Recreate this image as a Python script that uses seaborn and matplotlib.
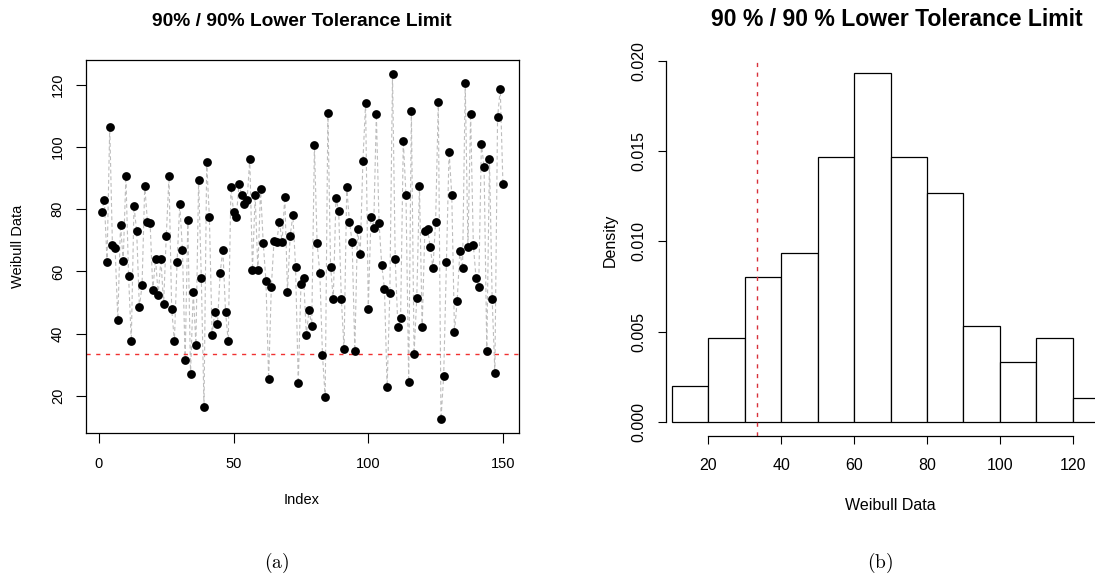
import matplotlib
matplotlib.use("Agg")
import matplotlib.pyplot as plt
import numpy as np
import pandas as pd
import seaborn as sns

# %% DATA (index order 1..150)
weibull_data = [
    79, 83, 63, 106.5, 68.5, 67.5, 44.5, 75, 63.5, 90.5,
    58.5, 37.5, 81, 73, 48.5, 55.5, 87.5, 76, 75.5, 54,
    64, 52.5, 64, 49.5, 71.5, 90.5, 48, 37.5, 63, 81.5,
    67, 31.5, 76.5, 27, 53.5, 36.5, 89.5, 58, 16.5, 95,
    77.5, 39.5, 47, 43, 59.5, 67, 47, 37.5, 87, 79,
    77.5, 88, 84.5, 81.5, 83, 96, 60.5, 84.5, 60.5, 86.5,
    69, 57, 25.5, 55, 69.8, 69.5, 76, 69.5, 84, 53.5,
    71.5, 78, 61.5, 24, 56, 58, 39.5, 47.5, 42.5, 100.5,
    69, 59.5, 33, 19.5, 111, 61.5, 51, 83.5, 79.5, 51,
    35, 87, 76, 69.5, 34.5, 73.5, 65.5, 95.5, 114, 48,
    77.5, 74, 110.5, 75.5, 62, 54.5, 23, 53, 123.5, 64,
    42, 45, 102, 84.5, 24.5, 111.5, 33.5, 51.5, 87.5, 42,
    73, 73.5, 68, 61, 76, 114.5, 12.5, 26.5, 63, 98.5,
    84.5, 40.5, 50.5, 66.5, 61, 120.5, 68, 110.5, 68.5, 58,
    55, 101, 93.5, 34.5, 96, 51, 27.5, 109.5, 118.5, 88,
]
lower_limit = 33.4
hist_breaks = list(range(10, 140, 10))
index_ticks = [0, 50, 100, 150]
value_ticks = [20, 40, 60, 80, 100, 120]
density_ticks = [0.0, 0.005, 0.010, 0.015, 0.020]
hist_ticks = [20, 40, 60, 80, 100, 120]

df = pd.DataFrame({"Index": np.arange(1, len(weibull_data) + 1), "value": weibull_data})

# %% STYLE
sns.set_theme(style="ticks", rc={"axes.edgecolor": "black", "axes.linewidth": 0.9,
                                 "xtick.color": "black", "ytick.color": "black",
                                 "text.color": "black", "axes.labelcolor": "black",
                                 "mathtext.fontset": "cm"})
plt.rcParams["font.family"] = ["Liberation Sans", "DejaVu Sans"]

W, H = 1095, 577
fig = plt.figure(figsize=(W / 100, H / 100), dpi=100)


def box(l, t, r, b):
    return [l / W, 1 - b / H, (r - l) / W, (b - t) / H]


# %% PANEL (a)
ax1 = fig.add_axes(box(85.6, 60, 519, 433))
sns.lineplot(data=df, x="Index", y="value", ax=ax1, color="#BDBDBD",
             linestyle=(0, (3.5, 2.5)), linewidth=0.8)
sns.scatterplot(data=df, x="Index", y="value", ax=ax1, color="black",
                s=40, edgecolor="black", linewidth=0, zorder=3)
ax1.axhline(lower_limit, color="#F03030", linestyle=(0, (3, 4)), linewidth=1.0)
ax1.set_xlim(-4.96, 155.96)
ax1.set_ylim(8.06, 127.94)
ax1.set_xticks(index_ticks)
ax1.set_yticks(value_ticks)
ax1.set_yticklabels([str(v) for v in value_ticks], rotation=90, va="center")
ax1.tick_params(axis="both", labelsize=10.5, length=7, width=0.8)
ax1.tick_params(axis="x", pad=10)
ax1.tick_params(axis="y", pad=8)
ax1.set_xlabel("")
ax1.set_ylabel("")
for s in ax1.spines.values():
    s.set_visible(True)

fig.text(302 / W, 1 - 21 / H, "90% / 90% Lower Tolerance Limit", ha="center",
         va="center", fontsize=13.8, fontweight="bold")
fig.text(302 / W, 1 - 500 / H, "Index", ha="center", va="center", fontsize=10.5)
fig.text(18 / W, 1 - 246 / H, "Weibull Data", ha="center", va="center",
         fontsize=10.5, rotation=90)
fig.text(277 / W, 1 - 563 / H, r"$\mathrm{(a)}$", ha="center", va="center", fontsize=14)

# %% PANEL (b)
ax2 = fig.add_axes(box(666, 58.9, 1115, 435.7))
sns.histplot(x=weibull_data, bins=hist_breaks, stat="density", ax=ax2,
             color="white", edgecolor="black", linewidth=0.9, alpha=1)
ax2.axvline(lower_limit, color="#D8303A", linestyle=(0, (3, 4)), linewidth=1.0)
ax2.set_xlim(8.4, 131.6)
ax2.set_ylim(-0.00077, 0.0201)
ax2.set_xticks(hist_ticks)
ax2.set_yticks(density_ticks)
ax2.set_yticklabels([f"{v:.3f}" for v in density_ticks], rotation=90, va="center")
ax2.tick_params(axis="both", labelsize=11.5, length=6, width=0.8)
ax2.tick_params(axis="x", pad=10)
ax2.tick_params(axis="y", pad=8)
ax2.spines["top"].set_visible(False)
ax2.spines["right"].set_visible(False)
ax2.spines["left"].set_bounds(0, 0.02)
ax2.spines["bottom"].set_bounds(20, 120)
ax2.set_xlabel("")
ax2.set_ylabel("")

fig.text(897 / W, 1 - 20 / H, "90 % / 90 % Lower Tolerance Limit", ha="center",
         va="center", fontsize=16.6, fontweight="bold")
fig.text(890 / W, 1 - 505 / H, "Weibull Data", ha="center", va="center", fontsize=11.5)
fig.text(610 / W, 1 - 240 / H, "Density", ha="center", va="center",
         fontsize=11.5, rotation=90)
fig.text(880 / W, 1 - 563 / H, r"$\mathrm{(b)}$", ha="center", va="center", fontsize=14)

fig.savefig("out.png", dpi=100)
